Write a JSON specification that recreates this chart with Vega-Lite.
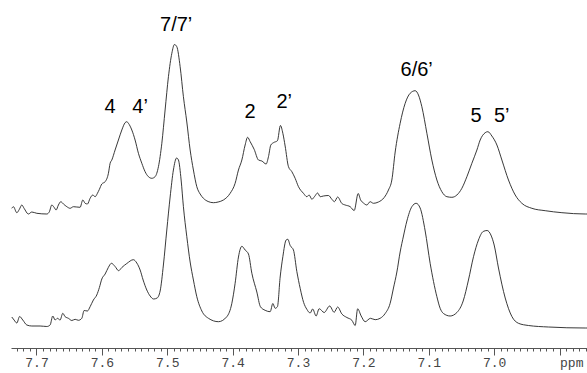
{
  "$schema": "https://vega.github.io/schema/vega-lite/v6.json",
  "width": 576,
  "height": 348,
  "autosize": "none",
  "padding": {"left": 11, "top": 0, "right": 0, "bottom": 25},
  "background": "white",
  "config": {"view": {"stroke": null}},
  "resolve": {"axis": {"x": "independent"}},
  "layer": [
    {
      "data": {"values": [
        {"trace":"A","ppm":7.7378,"intensity":139.7},{"trace":"A","ppm":7.7353,"intensity":141.3},{"trace":"A","ppm":7.7301,"intensity":135.3},{"trace":"A","ppm":7.7262,"intensity":138.7},{"trace":"A","ppm":7.7225,"intensity":143},{"trace":"A","ppm":7.719,"intensity":139.7},{"trace":"A","ppm":7.7124,"intensity":134},{"trace":"A","ppm":7.7072,"intensity":136},{"trace":"A","ppm":7.6995,"intensity":134.7},{"trace":"A","ppm":7.6842,"intensity":134},{"trace":"A","ppm":7.6803,"intensity":136.3},{"trace":"A","ppm":7.6766,"intensity":143},{"trace":"A","ppm":7.6731,"intensity":140.7},{"trace":"A","ppm":7.67,"intensity":138},{"trace":"A","ppm":7.6665,"intensity":143},{"trace":"A","ppm":7.6628,"intensity":146.3},{"trace":"A","ppm":7.6588,"intensity":144},{"trace":"A","ppm":7.6536,"intensity":141.3},{"trace":"A","ppm":7.6486,"intensity":139.7},{"trace":"A","ppm":7.6435,"intensity":141.3},{"trace":"A","ppm":7.6333,"intensity":140.7},{"trace":"A","ppm":7.6292,"intensity":148},{"trace":"A","ppm":7.6256,"intensity":144.7},{"trace":"A","ppm":7.6221,"intensity":144},{"trace":"A","ppm":7.618,"intensity":149.7},{"trace":"A","ppm":7.6139,"intensity":153},{"trace":"A","ppm":7.6103,"intensity":151.3},{"trace":"A","ppm":7.6068,"intensity":154.7},{"trace":"A","ppm":7.6038,"intensity":158.7},{"trace":"A","ppm":7.6001,"intensity":164},{"trace":"A","ppm":7.595,"intensity":166.3},{"trace":"A","ppm":7.59,"intensity":174.7},{"trace":"A","ppm":7.5874,"intensity":184.7},{"trace":"A","ppm":7.5848,"intensity":188},{"trace":"A","ppm":7.5798,"intensity":198},{"trace":"A","ppm":7.5747,"intensity":208},{"trace":"A","ppm":7.5695,"intensity":218},{"trace":"A","ppm":7.5645,"intensity":225.3},{"trace":"A","ppm":7.5619,"intensity":226.3},{"trace":"A","ppm":7.5594,"intensity":224.7},{"trace":"A","ppm":7.5542,"intensity":218},{"trace":"A","ppm":7.5492,"intensity":208},{"trace":"A","ppm":7.5441,"intensity":194.7},{"trace":"A","ppm":7.5389,"intensity":184.7},{"trace":"A","ppm":7.5339,"intensity":176.3},{"trace":"A","ppm":7.5288,"intensity":171.3},{"trace":"A","ppm":7.5236,"intensity":169.7},{"trace":"A","ppm":7.5186,"intensity":171.3},{"trace":"A","ppm":7.5135,"intensity":181.3},{"trace":"A","ppm":7.5083,"intensity":204.7},{"trace":"A","ppm":7.5033,"intensity":238},{"trace":"A","ppm":7.4982,"intensity":271.3},{"trace":"A","ppm":7.493,"intensity":294.7},{"trace":"A","ppm":7.489,"intensity":303.5},{"trace":"A","ppm":7.4854,"intensity":301.3},{"trace":"A","ppm":7.4803,"intensity":281.3},{"trace":"A","ppm":7.4753,"intensity":251.3},{"trace":"A","ppm":7.4701,"intensity":226},{"trace":"A","ppm":7.465,"intensity":198},{"trace":"A","ppm":7.46,"intensity":178},{"trace":"A","ppm":7.4548,"intensity":161.3},{"trace":"A","ppm":7.4497,"intensity":154},{"trace":"A","ppm":7.4447,"intensity":149.7},{"trace":"A","ppm":7.4375,"intensity":146.5},{"trace":"A","ppm":7.4294,"intensity":145.3},{"trace":"A","ppm":7.4222,"intensity":146},{"trace":"A","ppm":7.4141,"intensity":148},{"trace":"A","ppm":7.4038,"intensity":154.7},{"trace":"A","ppm":7.3962,"intensity":164.7},{"trace":"A","ppm":7.3911,"intensity":178},{"trace":"A","ppm":7.3859,"intensity":188},{"trace":"A","ppm":7.3809,"intensity":203},{"trace":"A","ppm":7.3771,"intensity":210.7},{"trace":"A","ppm":7.3732,"intensity":206.3},{"trace":"A","ppm":7.3671,"intensity":198.7},{"trace":"A","ppm":7.3605,"intensity":188},{"trace":"A","ppm":7.3553,"intensity":187},{"trace":"A","ppm":7.3488,"intensity":184},{"trace":"A","ppm":7.3452,"intensity":191.3},{"trace":"A","ppm":7.3416,"intensity":203},{"trace":"A","ppm":7.3376,"intensity":205.3},{"trace":"A","ppm":7.3315,"intensity":207.3},{"trace":"A","ppm":7.3269,"intensity":222.5},{"trace":"A","ppm":7.3232,"intensity":214.7},{"trace":"A","ppm":7.3197,"intensity":202},{"trace":"A","ppm":7.3146,"intensity":181.3},{"trace":"A","ppm":7.3094,"intensity":176.3},{"trace":"A","ppm":7.3044,"intensity":169.7},{"trace":"A","ppm":7.2993,"intensity":161.3},{"trace":"A","ppm":7.2917,"intensity":154.7},{"trace":"A","ppm":7.2865,"intensity":151.3},{"trace":"A","ppm":7.283,"intensity":153},{"trace":"A","ppm":7.2788,"intensity":148.7},{"trace":"A","ppm":7.2749,"intensity":151.3},{"trace":"A","ppm":7.27,"intensity":155},{"trace":"A","ppm":7.2661,"intensity":151.3},{"trace":"A","ppm":7.2611,"intensity":152},{"trace":"A","ppm":7.2534,"intensity":152.5},{"trace":"A","ppm":7.2482,"intensity":148.7},{"trace":"A","ppm":7.2443,"intensity":146.3},{"trace":"A","ppm":7.2394,"intensity":151},{"trace":"A","ppm":7.2329,"intensity":144.5},{"trace":"A","ppm":7.2279,"intensity":143},{"trace":"A","ppm":7.2202,"intensity":141.3},{"trace":"A","ppm":7.2141,"intensity":137.5},{"trace":"A","ppm":7.208,"intensity":154.5},{"trace":"A","ppm":7.2042,"intensity":148},{"trace":"A","ppm":7.1999,"intensity":145},{"trace":"A","ppm":7.1947,"intensity":143},{"trace":"A","ppm":7.1897,"intensity":146.3},{"trace":"A","ppm":7.1846,"intensity":144.7},{"trace":"A","ppm":7.177,"intensity":146},{"trace":"A","ppm":7.1682,"intensity":150.5},{"trace":"A","ppm":7.1617,"intensity":158},{"trace":"A","ppm":7.1565,"intensity":168},{"trace":"A","ppm":7.1514,"intensity":196},{"trace":"A","ppm":7.1438,"intensity":224.7},{"trace":"A","ppm":7.1361,"intensity":244.7},{"trace":"A","ppm":7.1285,"intensity":254.7},{"trace":"A","ppm":7.1208,"intensity":257.3},{"trace":"A","ppm":7.1158,"intensity":253},{"trace":"A","ppm":7.1106,"intensity":241.3},{"trace":"A","ppm":7.1029,"intensity":214.7},{"trace":"A","ppm":7.0953,"intensity":188},{"trace":"A","ppm":7.0876,"intensity":168},{"trace":"A","ppm":7.08,"intensity":156.3},{"trace":"A","ppm":7.0723,"intensity":151.3},{"trace":"A","ppm":7.0647,"intensity":150.7},{"trace":"A","ppm":7.057,"intensity":153},{"trace":"A","ppm":7.0494,"intensity":159.7},{"trace":"A","ppm":7.0417,"intensity":171.3},{"trace":"A","ppm":7.0341,"intensity":184.7},{"trace":"A","ppm":7.0264,"intensity":198},{"trace":"A","ppm":7.0214,"intensity":208},{"trace":"A","ppm":7.0137,"intensity":215.3},{"trace":"A","ppm":7.0096,"intensity":216.3},{"trace":"A","ppm":7.0035,"intensity":212},{"trace":"A","ppm":6.9958,"intensity":203},{"trace":"A","ppm":6.9882,"intensity":188},{"trace":"A","ppm":6.9781,"intensity":168},{"trace":"A","ppm":6.9678,"intensity":153},{"trace":"A","ppm":6.9576,"intensity":144.7},{"trace":"A","ppm":6.9423,"intensity":139.7},{"trace":"A","ppm":6.9219,"intensity":137.3},{"trace":"A","ppm":6.8964,"intensity":135.3},{"trace":"A","ppm":6.8607,"intensity":134},{"trace":"A","ppm":6.858,"intensity":134},
        {"trace":"B","ppm":7.7378,"intensity":31},{"trace":"B","ppm":7.7343,"intensity":28},{"trace":"B","ppm":7.7301,"intensity":25},{"trace":"B","ppm":7.7258,"intensity":31.5},{"trace":"B","ppm":7.721,"intensity":28},{"trace":"B","ppm":7.7148,"intensity":23},{"trace":"B","ppm":7.7072,"intensity":22},{"trace":"B","ppm":7.6945,"intensity":22},{"trace":"B","ppm":7.6842,"intensity":21.5},{"trace":"B","ppm":7.6792,"intensity":23},{"trace":"B","ppm":7.6751,"intensity":32},{"trace":"B","ppm":7.6715,"intensity":28},{"trace":"B","ppm":7.668,"intensity":29.7},{"trace":"B","ppm":7.6639,"intensity":28},{"trace":"B","ppm":7.6598,"intensity":34.7},{"trace":"B","ppm":7.6562,"intensity":31.3},{"trace":"B","ppm":7.6512,"intensity":29.7},{"trace":"B","ppm":7.646,"intensity":27.5},{"trace":"B","ppm":7.6409,"intensity":28.7},{"trace":"B","ppm":7.6359,"intensity":27.7},{"trace":"B","ppm":7.6307,"intensity":29.7},{"trace":"B","ppm":7.6272,"intensity":37.5},{"trace":"B","ppm":7.6221,"intensity":37},{"trace":"B","ppm":7.618,"intensity":41.3},{"trace":"B","ppm":7.613,"intensity":48},{"trace":"B","ppm":7.6078,"intensity":53},{"trace":"B","ppm":7.6038,"intensity":60.5},{"trace":"B","ppm":7.6001,"intensity":69},{"trace":"B","ppm":7.595,"intensity":74},{"trace":"B","ppm":7.59,"intensity":80.7},{"trace":"B","ppm":7.5854,"intensity":84.7},{"trace":"B","ppm":7.5798,"intensity":81.5},{"trace":"B","ppm":7.5744,"intensity":77.3},{"trace":"B","ppm":7.5695,"intensity":80.5},{"trace":"B","ppm":7.5619,"intensity":84.5},{"trace":"B","ppm":7.5518,"intensity":88.3},{"trace":"B","ppm":7.5466,"intensity":85},{"trace":"B","ppm":7.5415,"intensity":78},{"trace":"B","ppm":7.5369,"intensity":68},{"trace":"B","ppm":7.5313,"intensity":58},{"trace":"B","ppm":7.5262,"intensity":52},{"trace":"B","ppm":7.5209,"intensity":49},{"trace":"B","ppm":7.5155,"intensity":50},{"trace":"B","ppm":7.5109,"intensity":57},{"trace":"B","ppm":7.5059,"intensity":83},{"trace":"B","ppm":7.5007,"intensity":118},{"trace":"B","ppm":7.4956,"intensity":151},{"trace":"B","ppm":7.4906,"intensity":178},{"trace":"B","ppm":7.4857,"intensity":190},{"trace":"B","ppm":7.4829,"intensity":188},{"trace":"B","ppm":7.4788,"intensity":168},{"trace":"B","ppm":7.4753,"intensity":141.3},{"trace":"B","ppm":7.4701,"intensity":111.3},{"trace":"B","ppm":7.465,"intensity":86},{"trace":"B","ppm":7.46,"intensity":68},{"trace":"B","ppm":7.4548,"intensity":51.3},{"trace":"B","ppm":7.4471,"intensity":37},{"trace":"B","ppm":7.437,"intensity":29.7},{"trace":"B","ppm":7.4217,"intensity":26.3},{"trace":"B","ppm":7.4089,"intensity":31.3},{"trace":"B","ppm":7.4012,"intensity":44.7},{"trace":"B","ppm":7.3962,"intensity":64.7},{"trace":"B","ppm":7.3911,"intensity":91},{"trace":"B","ppm":7.3859,"intensity":101.7},{"trace":"B","ppm":7.3809,"intensity":98},{"trace":"B","ppm":7.3758,"intensity":94},{"trace":"B","ppm":7.3706,"intensity":74.7},{"trace":"B","ppm":7.363,"intensity":56},{"trace":"B","ppm":7.3575,"intensity":41.3},{"trace":"B","ppm":7.3503,"intensity":37.7},{"trace":"B","ppm":7.3426,"intensity":36.3},{"trace":"B","ppm":7.3385,"intensity":44.5},{"trace":"B","ppm":7.335,"intensity":39.7},{"trace":"B","ppm":7.3315,"intensity":41.3},{"trace":"B","ppm":7.3273,"intensity":71},{"trace":"B","ppm":7.3232,"intensity":91.3},{"trace":"B","ppm":7.3182,"intensity":108},{"trace":"B","ppm":7.3156,"intensity":108.7},{"trace":"B","ppm":7.312,"intensity":102.5},{"trace":"B","ppm":7.307,"intensity":98},{"trace":"B","ppm":7.3018,"intensity":76.5},{"trace":"B","ppm":7.2967,"intensity":59.7},{"trace":"B","ppm":7.2914,"intensity":45.5},{"trace":"B","ppm":7.2865,"intensity":38.7},{"trace":"B","ppm":7.2814,"intensity":35},{"trace":"B","ppm":7.2776,"intensity":39},{"trace":"B","ppm":7.2723,"intensity":32},{"trace":"B","ppm":7.2677,"intensity":39.3},{"trace":"B","ppm":7.26,"intensity":35.5},{"trace":"B","ppm":7.2516,"intensity":42},{"trace":"B","ppm":7.2447,"intensity":35.7},{"trace":"B","ppm":7.2394,"intensity":41},{"trace":"B","ppm":7.2329,"intensity":34},{"trace":"B","ppm":7.2253,"intensity":30.5},{"trace":"B","ppm":7.2176,"intensity":27.7},{"trace":"B","ppm":7.2126,"intensity":22.5},{"trace":"B","ppm":7.2088,"intensity":39.2},{"trace":"B","ppm":7.2034,"intensity":32},{"trace":"B","ppm":7.1973,"intensity":26.3},{"trace":"B","ppm":7.1892,"intensity":29.7},{"trace":"B","ppm":7.182,"intensity":28.3},{"trace":"B","ppm":7.1744,"intensity":29.7},{"trace":"B","ppm":7.1667,"intensity":34.5},{"trace":"B","ppm":7.1591,"intensity":44.7},{"trace":"B","ppm":7.154,"intensity":60},{"trace":"B","ppm":7.1488,"intensity":76},{"trace":"B","ppm":7.1438,"intensity":96},{"trace":"B","ppm":7.1387,"intensity":112},{"trace":"B","ppm":7.1335,"intensity":127},{"trace":"B","ppm":7.1259,"intensity":141.3},{"trace":"B","ppm":7.1193,"intensity":144.7},{"trace":"B","ppm":7.1132,"intensity":140},{"trace":"B","ppm":7.1055,"intensity":117},{"trace":"B","ppm":7.0979,"intensity":84.7},{"trace":"B","ppm":7.0876,"intensity":51.3},{"trace":"B","ppm":7.0826,"intensity":39.7},{"trace":"B","ppm":7.0775,"intensity":34.5},{"trace":"B","ppm":7.0673,"intensity":32},{"trace":"B","ppm":7.057,"intensity":35.5},{"trace":"B","ppm":7.0474,"intensity":47},{"trace":"B","ppm":7.0393,"intensity":68},{"trace":"B","ppm":7.0316,"intensity":91.3},{"trace":"B","ppm":7.024,"intensity":108},{"trace":"B","ppm":7.0168,"intensity":116.5},{"trace":"B","ppm":7.0107,"intensity":117.5},{"trace":"B","ppm":7.005,"intensity":113},{"trace":"B","ppm":7.0,"intensity":103},{"trace":"B","ppm":6.9934,"intensity":80},{"trace":"B","ppm":6.9831,"intensity":50},{"trace":"B","ppm":6.9729,"intensity":31.5},{"trace":"B","ppm":6.9628,"intensity":24.7},{"trace":"B","ppm":6.9475,"intensity":22.5},{"trace":"B","ppm":6.9169,"intensity":21},{"trace":"B","ppm":6.8607,"intensity":20},{"trace":"B","ppm":6.858,"intensity":20}
      ]},
      "mark": {"type": "line", "stroke": "#222222", "strokeWidth": 0.9, "interpolate": "monotone"},
      "encoding": {
        "x": {
          "field": "ppm", "type": "quantitative",
          "scale": {"domain": [6.858, 7.739], "reverse": true, "nice": false, "zero": false},
          "axis": {
            "orient": "bottom",
            "title": null,
            "values": [7.7, 7.6, 7.5, 7.4, 7.3, 7.2, 7.1, 7.0, 6.9],
            "labelExpr": "datum.value < 6.95 ? 'ppm' : format(datum.value, '.1f')",
            "labelAlign": {"condition": {"test": "datum.value < 6.95", "value": "left"}, "value": "center"},
            "labelFont": "Liberation Mono",
            "labelFontSize": 13,
            "labelColor": "#444444",
            "labelFlush": false,
            "labelOverlap": false,
            "labelBound": false,
            "labelPadding": 1,
            "tickSize": 7,
            "tickColor": "#555555",
            "tickWidth": 1,
            "domainColor": "#555555",
            "domainWidth": 1,
            "grid": false
          }
        },
        "y": {
          "field": "intensity", "type": "quantitative",
          "scale": {"domain": [0, 348], "nice": false, "zero": true},
          "axis": null
        },
        "detail": {"field": "trace"}
      }
    },
    {
      "data": {"values": [
        {"label": "4", "ppm": 7.5874, "intensity": 241},
        {"label": "4’", "ppm": 7.5415, "intensity": 241},
        {"label": "7/7’", "ppm": 7.4864, "intensity": 323},
        {"label": "2", "ppm": 7.3732, "intensity": 236},
        {"label": "2’", "ppm": 7.3212, "intensity": 246},
        {"label": "6/6’", "ppm": 7.1185, "intensity": 278},
        {"label": "5", "ppm": 7.0275, "intensity": 232.5},
        {"label": "5’", "ppm": 6.9885, "intensity": 232.5}
      ]},
      "mark": {"type": "text", "font": "Liberation Sans", "fontSize": 20, "fill": "#000000", "align": "center", "baseline": "middle"},
      "encoding": {
        "x": {
          "field": "ppm", "type": "quantitative",
          "axis": {
            "orient": "bottom",
            "title": null,
            "values": [7.73,7.72,7.71,7.70,7.69,7.68,7.67,7.66,7.65,7.64,7.63,7.62,7.61,7.60,7.59,7.58,7.57,7.56,7.55,7.54,7.53,7.52,7.51,7.50,7.49,7.48,7.47,7.46,7.45,7.44,7.43,7.42,7.41,7.40,7.39,7.38,7.37,7.36,7.35,7.34,7.33,7.32,7.31,7.30,7.29,7.28,7.27,7.26,7.25,7.24,7.23,7.22,7.21,7.20,7.19,7.18,7.17,7.16,7.15,7.14,7.13,7.12,7.11,7.10,7.09,7.08,7.07,7.06,7.05,7.04,7.03,7.02,7.01,7.00,6.99,6.98,6.97,6.96,6.95,6.94,6.93,6.92,6.91,6.90,6.89,6.88,6.87,6.86],
            "labels": false,
            "domain": false,
            "grid": false,
            "tickSize": 3,
            "tickColor": "#555555",
            "tickWidth": 1
          }
        },
        "y": {"field": "intensity", "type": "quantitative"},
        "text": {"field": "label"}
      }
    }
  ]
}
